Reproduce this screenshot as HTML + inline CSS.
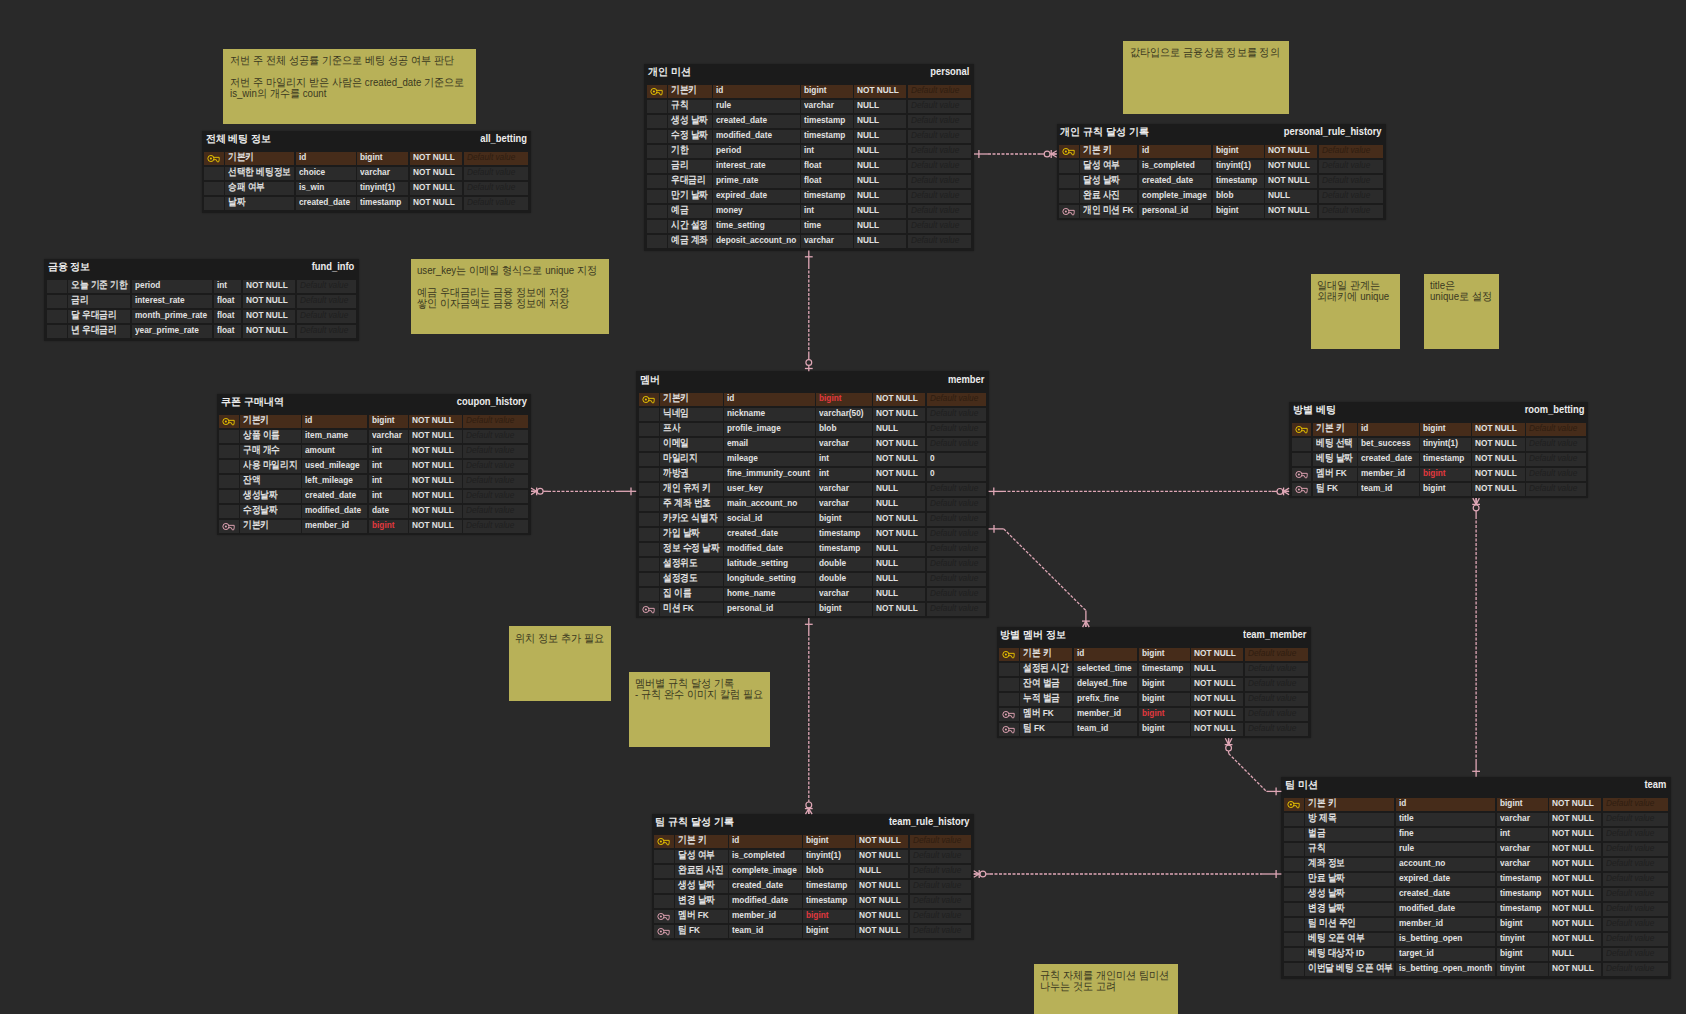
<!DOCTYPE html>
<html><head><meta charset="utf-8"><title>ERD</title><style>
*{margin:0;padding:0;box-sizing:border-box}
html,body{width:1686px;height:1014px;overflow:hidden;background:#292929}
body{position:relative;font-family:"Liberation Sans",sans-serif;}
.t{position:absolute;background:#1b1b1b;box-shadow:0 0 1.5px rgba(0,0,0,.3)}
.ht,.hn{position:absolute;font-size:10.4px;line-height:10.4px;font-weight:bold;color:#ececec;white-space:nowrap}
.ht{transform-origin:left center}
.hn{transform:scaleX(.9);transform-origin:right center}
.c{position:absolute;height:13.4px;background:#2b2b2b;overflow:hidden;white-space:nowrap}
.c.p{background:#462c1a}
.tx,.dv{position:absolute;left:3px;top:0.4px;font-size:9.5px;line-height:9.5px;color:#e2e2e2;font-weight:bold;transform:scaleX(.87);transform-origin:left center}
.tx.red{color:#e2393f}
.dv{font-style:italic;font-weight:normal;color:#1f1f1f;transform:scaleX(.87)}
.c.p .dv{color:#2f1d10}
.k{position:absolute;left:3.2px;top:2.3px}
.n{position:absolute;background:#b8b158;overflow:hidden}
.nt{position:absolute;left:6.3px;top:6.3px;font-size:10.5px;line-height:11.1px;color:#3a3820;white-space:nowrap;transform:scaleX(.92);transform-origin:left top}
svg.rel{position:absolute;left:0;top:0}
svg.rel line,svg.rel polyline{stroke:#dfa7b6;stroke-width:1.3}
svg.rel circle{stroke:#dfa7b6;stroke-width:1.2}
</style></head>
<body>
<div class="t" style="left:202.00px;top:131.10px;width:328.70px;height:82.30px">
<div class="ht" style="left:3.6px;top:3.3px">전체 베팅 정보</div>
<div class="hn" style="right:4.2px;top:3.3px">all_betting</div>
<div class="c p" style="left:2.00px;top:20.85px;width:19.80px"><svg class="k" width="13" height="10" viewBox="0 0 13 10"><circle cx="3.9" cy="4.5" r="3.05" fill="none" stroke="#e8c300" stroke-width="1.0"/><circle cx="3.9" cy="4.5" r="1.05" fill="#e8c300"/><path d="M6.9 3.35H12.2V5.8L11.7 7.8H10.2L9.3 5.7H6.9" fill="none" stroke="#e8c300" stroke-width="0.95" stroke-linejoin="round"/></svg></div>
<div class="c p" style="left:23.20px;top:20.85px;width:69.20px"><span class="tx">기본키</span></div>
<div class="c p" style="left:93.80px;top:20.85px;width:60.10px"><span class="tx">id</span></div>
<div class="c p" style="left:155.30px;top:20.85px;width:51.10px"><span class="tx">bigint</span></div>
<div class="c p" style="left:207.80px;top:20.85px;width:52.60px"><span class="tx">NOT NULL</span></div>
<div class="c p" style="left:261.80px;top:20.85px;width:64.30px"><span class="dv">Default value</span></div>
<div class="c" style="left:2.00px;top:35.85px;width:19.80px"></div>
<div class="c" style="left:23.20px;top:35.85px;width:69.20px"><span class="tx">선택한 베팅정보</span></div>
<div class="c" style="left:93.80px;top:35.85px;width:60.10px"><span class="tx">choice</span></div>
<div class="c" style="left:155.30px;top:35.85px;width:51.10px"><span class="tx">varchar</span></div>
<div class="c" style="left:207.80px;top:35.85px;width:52.60px"><span class="tx">NOT NULL</span></div>
<div class="c" style="left:261.80px;top:35.85px;width:64.30px"><span class="dv">Default value</span></div>
<div class="c" style="left:2.00px;top:50.85px;width:19.80px"></div>
<div class="c" style="left:23.20px;top:50.85px;width:69.20px"><span class="tx">승패 여부</span></div>
<div class="c" style="left:93.80px;top:50.85px;width:60.10px"><span class="tx">is_win</span></div>
<div class="c" style="left:155.30px;top:50.85px;width:51.10px"><span class="tx">tinyint(1)</span></div>
<div class="c" style="left:207.80px;top:50.85px;width:52.60px"><span class="tx">NOT NULL</span></div>
<div class="c" style="left:261.80px;top:50.85px;width:64.30px"><span class="dv">Default value</span></div>
<div class="c" style="left:2.00px;top:65.85px;width:19.80px"></div>
<div class="c" style="left:23.20px;top:65.85px;width:69.20px"><span class="tx">날짜</span></div>
<div class="c" style="left:93.80px;top:65.85px;width:60.10px"><span class="tx">created_date</span></div>
<div class="c" style="left:155.30px;top:65.85px;width:51.10px"><span class="tx">timestamp</span></div>
<div class="c" style="left:207.80px;top:65.85px;width:52.60px"><span class="tx">NOT NULL</span></div>
<div class="c" style="left:261.80px;top:65.85px;width:64.30px"><span class="dv">Default value</span></div>
</div>
<div class="t" style="left:44.00px;top:259.10px;width:314.60px;height:82.00px">
<div class="ht" style="left:3.6px;top:3.3px">금융 정보</div>
<div class="hn" style="right:4.2px;top:3.3px">fund_info</div>
<div class="c" style="left:3.10px;top:20.70px;width:19.70px"></div>
<div class="c" style="left:24.20px;top:20.70px;width:62.20px"><span class="tx">오늘 기준 기한</span></div>
<div class="c" style="left:87.80px;top:20.70px;width:80.60px"><span class="tx">period</span></div>
<div class="c" style="left:169.80px;top:20.70px;width:27.50px"><span class="tx">int</span></div>
<div class="c" style="left:198.70px;top:20.70px;width:52.40px"><span class="tx">NOT NULL</span></div>
<div class="c" style="left:252.50px;top:20.70px;width:59.50px"><span class="dv">Default value</span></div>
<div class="c" style="left:3.10px;top:35.70px;width:19.70px"></div>
<div class="c" style="left:24.20px;top:35.70px;width:62.20px"><span class="tx">금리</span></div>
<div class="c" style="left:87.80px;top:35.70px;width:80.60px"><span class="tx">interest_rate</span></div>
<div class="c" style="left:169.80px;top:35.70px;width:27.50px"><span class="tx">float</span></div>
<div class="c" style="left:198.70px;top:35.70px;width:52.40px"><span class="tx">NOT NULL</span></div>
<div class="c" style="left:252.50px;top:35.70px;width:59.50px"><span class="dv">Default value</span></div>
<div class="c" style="left:3.10px;top:50.70px;width:19.70px"></div>
<div class="c" style="left:24.20px;top:50.70px;width:62.20px"><span class="tx">달 우대금리</span></div>
<div class="c" style="left:87.80px;top:50.70px;width:80.60px"><span class="tx">month_prime_rate</span></div>
<div class="c" style="left:169.80px;top:50.70px;width:27.50px"><span class="tx">float</span></div>
<div class="c" style="left:198.70px;top:50.70px;width:52.40px"><span class="tx">NOT NULL</span></div>
<div class="c" style="left:252.50px;top:50.70px;width:59.50px"><span class="dv">Default value</span></div>
<div class="c" style="left:3.10px;top:65.70px;width:19.70px"></div>
<div class="c" style="left:24.20px;top:65.70px;width:62.20px"><span class="tx">년 우대금리</span></div>
<div class="c" style="left:87.80px;top:65.70px;width:80.60px"><span class="tx">year_prime_rate</span></div>
<div class="c" style="left:169.80px;top:65.70px;width:27.50px"><span class="tx">float</span></div>
<div class="c" style="left:198.70px;top:65.70px;width:52.40px"><span class="tx">NOT NULL</span></div>
<div class="c" style="left:252.50px;top:65.70px;width:59.50px"><span class="dv">Default value</span></div>
</div>
<div class="t" style="left:217.10px;top:394.10px;width:313.90px;height:141.10px">
<div class="ht" style="left:3.6px;top:3.3px">쿠폰 구매내역</div>
<div class="hn" style="right:4.2px;top:3.3px">coupon_history</div>
<div class="c p" style="left:2.00px;top:20.70px;width:19.70px"><svg class="k" width="13" height="10" viewBox="0 0 13 10"><circle cx="3.9" cy="4.5" r="3.05" fill="none" stroke="#e8c300" stroke-width="1.0"/><circle cx="3.9" cy="4.5" r="1.05" fill="#e8c300"/><path d="M6.9 3.35H12.2V5.8L11.7 7.8H10.2L9.3 5.7H6.9" fill="none" stroke="#e8c300" stroke-width="0.95" stroke-linejoin="round"/></svg></div>
<div class="c p" style="left:23.10px;top:20.70px;width:60.60px"><span class="tx">기본키</span></div>
<div class="c p" style="left:85.10px;top:20.70px;width:65.10px"><span class="tx">id</span></div>
<div class="c p" style="left:151.60px;top:20.70px;width:39.10px"><span class="tx">bigint</span></div>
<div class="c p" style="left:192.10px;top:20.70px;width:52.50px"><span class="tx">NOT NULL</span></div>
<div class="c p" style="left:246.00px;top:20.70px;width:65.10px"><span class="dv">Default value</span></div>
<div class="c" style="left:2.00px;top:35.70px;width:19.70px"></div>
<div class="c" style="left:23.10px;top:35.70px;width:60.60px"><span class="tx">상품 이름</span></div>
<div class="c" style="left:85.10px;top:35.70px;width:65.10px"><span class="tx">item_name</span></div>
<div class="c" style="left:151.60px;top:35.70px;width:39.10px"><span class="tx">varchar</span></div>
<div class="c" style="left:192.10px;top:35.70px;width:52.50px"><span class="tx">NOT NULL</span></div>
<div class="c" style="left:246.00px;top:35.70px;width:65.10px"><span class="dv">Default value</span></div>
<div class="c" style="left:2.00px;top:50.70px;width:19.70px"></div>
<div class="c" style="left:23.10px;top:50.70px;width:60.60px"><span class="tx">구매 개수</span></div>
<div class="c" style="left:85.10px;top:50.70px;width:65.10px"><span class="tx">amount</span></div>
<div class="c" style="left:151.60px;top:50.70px;width:39.10px"><span class="tx">int</span></div>
<div class="c" style="left:192.10px;top:50.70px;width:52.50px"><span class="tx">NOT NULL</span></div>
<div class="c" style="left:246.00px;top:50.70px;width:65.10px"><span class="dv">Default value</span></div>
<div class="c" style="left:2.00px;top:65.70px;width:19.70px"></div>
<div class="c" style="left:23.10px;top:65.70px;width:60.60px"><span class="tx">사용 마일리지</span></div>
<div class="c" style="left:85.10px;top:65.70px;width:65.10px"><span class="tx">used_mileage</span></div>
<div class="c" style="left:151.60px;top:65.70px;width:39.10px"><span class="tx">int</span></div>
<div class="c" style="left:192.10px;top:65.70px;width:52.50px"><span class="tx">NOT NULL</span></div>
<div class="c" style="left:246.00px;top:65.70px;width:65.10px"><span class="dv">Default value</span></div>
<div class="c" style="left:2.00px;top:80.70px;width:19.70px"></div>
<div class="c" style="left:23.10px;top:80.70px;width:60.60px"><span class="tx">잔액</span></div>
<div class="c" style="left:85.10px;top:80.70px;width:65.10px"><span class="tx">left_mileage</span></div>
<div class="c" style="left:151.60px;top:80.70px;width:39.10px"><span class="tx">int</span></div>
<div class="c" style="left:192.10px;top:80.70px;width:52.50px"><span class="tx">NOT NULL</span></div>
<div class="c" style="left:246.00px;top:80.70px;width:65.10px"><span class="dv">Default value</span></div>
<div class="c" style="left:2.00px;top:95.70px;width:19.70px"></div>
<div class="c" style="left:23.10px;top:95.70px;width:60.60px"><span class="tx">생성날짜</span></div>
<div class="c" style="left:85.10px;top:95.70px;width:65.10px"><span class="tx">created_date</span></div>
<div class="c" style="left:151.60px;top:95.70px;width:39.10px"><span class="tx">int</span></div>
<div class="c" style="left:192.10px;top:95.70px;width:52.50px"><span class="tx">NOT NULL</span></div>
<div class="c" style="left:246.00px;top:95.70px;width:65.10px"><span class="dv">Default value</span></div>
<div class="c" style="left:2.00px;top:110.70px;width:19.70px"></div>
<div class="c" style="left:23.10px;top:110.70px;width:60.60px"><span class="tx">수정날짜</span></div>
<div class="c" style="left:85.10px;top:110.70px;width:65.10px"><span class="tx">modified_date</span></div>
<div class="c" style="left:151.60px;top:110.70px;width:39.10px"><span class="tx">date</span></div>
<div class="c" style="left:192.10px;top:110.70px;width:52.50px"><span class="tx">NOT NULL</span></div>
<div class="c" style="left:246.00px;top:110.70px;width:65.10px"><span class="dv">Default value</span></div>
<div class="c" style="left:2.00px;top:125.70px;width:19.70px"><svg class="k" width="13" height="10" viewBox="0 0 13 10"><circle cx="3.9" cy="4.5" r="3.05" fill="none" stroke="#e0a3b3" stroke-width="1.0"/><circle cx="3.9" cy="4.5" r="1.05" fill="#e0a3b3"/><path d="M6.9 3.35H12.2V5.8L11.7 7.8H10.2L9.3 5.7H6.9" fill="none" stroke="#e0a3b3" stroke-width="0.95" stroke-linejoin="round"/></svg></div>
<div class="c" style="left:23.10px;top:125.70px;width:60.60px"><span class="tx">기본키</span></div>
<div class="c" style="left:85.10px;top:125.70px;width:65.10px"><span class="tx">member_id</span></div>
<div class="c" style="left:151.60px;top:125.70px;width:39.10px"><span class="tx red">bigint</span></div>
<div class="c" style="left:192.10px;top:125.70px;width:52.50px"><span class="tx">NOT NULL</span></div>
<div class="c" style="left:246.00px;top:125.70px;width:65.10px"><span class="dv">Default value</span></div>
</div>
<div class="t" style="left:644.10px;top:64.20px;width:329.90px;height:186.40px">
<div class="ht" style="left:3.6px;top:3.3px">개인 미션</div>
<div class="hn" style="right:4.2px;top:3.3px">personal</div>
<div class="c p" style="left:2.90px;top:20.65px;width:19.80px"><svg class="k" width="13" height="10" viewBox="0 0 13 10"><circle cx="3.9" cy="4.5" r="3.05" fill="none" stroke="#e8c300" stroke-width="1.0"/><circle cx="3.9" cy="4.5" r="1.05" fill="#e8c300"/><path d="M6.9 3.35H12.2V5.8L11.7 7.8H10.2L9.3 5.7H6.9" fill="none" stroke="#e8c300" stroke-width="0.95" stroke-linejoin="round"/></svg></div>
<div class="c p" style="left:24.10px;top:20.65px;width:43.60px"><span class="tx">기본키</span></div>
<div class="c p" style="left:69.10px;top:20.65px;width:86.90px"><span class="tx">id</span></div>
<div class="c p" style="left:157.40px;top:20.65px;width:51.30px"><span class="tx">bigint</span></div>
<div class="c p" style="left:210.10px;top:20.65px;width:52.20px"><span class="tx">NOT NULL</span></div>
<div class="c p" style="left:263.70px;top:20.65px;width:63.30px"><span class="dv">Default value</span></div>
<div class="c" style="left:2.90px;top:35.65px;width:19.80px"></div>
<div class="c" style="left:24.10px;top:35.65px;width:43.60px"><span class="tx">규칙</span></div>
<div class="c" style="left:69.10px;top:35.65px;width:86.90px"><span class="tx">rule</span></div>
<div class="c" style="left:157.40px;top:35.65px;width:51.30px"><span class="tx">varchar</span></div>
<div class="c" style="left:210.10px;top:35.65px;width:52.20px"><span class="tx">NULL</span></div>
<div class="c" style="left:263.70px;top:35.65px;width:63.30px"><span class="dv">Default value</span></div>
<div class="c" style="left:2.90px;top:50.65px;width:19.80px"></div>
<div class="c" style="left:24.10px;top:50.65px;width:43.60px"><span class="tx">생성 날짜</span></div>
<div class="c" style="left:69.10px;top:50.65px;width:86.90px"><span class="tx">created_date</span></div>
<div class="c" style="left:157.40px;top:50.65px;width:51.30px"><span class="tx">timestamp</span></div>
<div class="c" style="left:210.10px;top:50.65px;width:52.20px"><span class="tx">NULL</span></div>
<div class="c" style="left:263.70px;top:50.65px;width:63.30px"><span class="dv">Default value</span></div>
<div class="c" style="left:2.90px;top:65.65px;width:19.80px"></div>
<div class="c" style="left:24.10px;top:65.65px;width:43.60px"><span class="tx">수정 날짜</span></div>
<div class="c" style="left:69.10px;top:65.65px;width:86.90px"><span class="tx">modified_date</span></div>
<div class="c" style="left:157.40px;top:65.65px;width:51.30px"><span class="tx">timestamp</span></div>
<div class="c" style="left:210.10px;top:65.65px;width:52.20px"><span class="tx">NULL</span></div>
<div class="c" style="left:263.70px;top:65.65px;width:63.30px"><span class="dv">Default value</span></div>
<div class="c" style="left:2.90px;top:80.65px;width:19.80px"></div>
<div class="c" style="left:24.10px;top:80.65px;width:43.60px"><span class="tx">기한</span></div>
<div class="c" style="left:69.10px;top:80.65px;width:86.90px"><span class="tx">period</span></div>
<div class="c" style="left:157.40px;top:80.65px;width:51.30px"><span class="tx">int</span></div>
<div class="c" style="left:210.10px;top:80.65px;width:52.20px"><span class="tx">NULL</span></div>
<div class="c" style="left:263.70px;top:80.65px;width:63.30px"><span class="dv">Default value</span></div>
<div class="c" style="left:2.90px;top:95.65px;width:19.80px"></div>
<div class="c" style="left:24.10px;top:95.65px;width:43.60px"><span class="tx">금리</span></div>
<div class="c" style="left:69.10px;top:95.65px;width:86.90px"><span class="tx">interest_rate</span></div>
<div class="c" style="left:157.40px;top:95.65px;width:51.30px"><span class="tx">float</span></div>
<div class="c" style="left:210.10px;top:95.65px;width:52.20px"><span class="tx">NULL</span></div>
<div class="c" style="left:263.70px;top:95.65px;width:63.30px"><span class="dv">Default value</span></div>
<div class="c" style="left:2.90px;top:110.65px;width:19.80px"></div>
<div class="c" style="left:24.10px;top:110.65px;width:43.60px"><span class="tx">우대금리</span></div>
<div class="c" style="left:69.10px;top:110.65px;width:86.90px"><span class="tx">prime_rate</span></div>
<div class="c" style="left:157.40px;top:110.65px;width:51.30px"><span class="tx">float</span></div>
<div class="c" style="left:210.10px;top:110.65px;width:52.20px"><span class="tx">NULL</span></div>
<div class="c" style="left:263.70px;top:110.65px;width:63.30px"><span class="dv">Default value</span></div>
<div class="c" style="left:2.90px;top:125.65px;width:19.80px"></div>
<div class="c" style="left:24.10px;top:125.65px;width:43.60px"><span class="tx">만기 날짜</span></div>
<div class="c" style="left:69.10px;top:125.65px;width:86.90px"><span class="tx">expired_date</span></div>
<div class="c" style="left:157.40px;top:125.65px;width:51.30px"><span class="tx">timestamp</span></div>
<div class="c" style="left:210.10px;top:125.65px;width:52.20px"><span class="tx">NULL</span></div>
<div class="c" style="left:263.70px;top:125.65px;width:63.30px"><span class="dv">Default value</span></div>
<div class="c" style="left:2.90px;top:140.65px;width:19.80px"></div>
<div class="c" style="left:24.10px;top:140.65px;width:43.60px"><span class="tx">예금</span></div>
<div class="c" style="left:69.10px;top:140.65px;width:86.90px"><span class="tx">money</span></div>
<div class="c" style="left:157.40px;top:140.65px;width:51.30px"><span class="tx">int</span></div>
<div class="c" style="left:210.10px;top:140.65px;width:52.20px"><span class="tx">NULL</span></div>
<div class="c" style="left:263.70px;top:140.65px;width:63.30px"><span class="dv">Default value</span></div>
<div class="c" style="left:2.90px;top:155.65px;width:19.80px"></div>
<div class="c" style="left:24.10px;top:155.65px;width:43.60px"><span class="tx">시간 설정</span></div>
<div class="c" style="left:69.10px;top:155.65px;width:86.90px"><span class="tx">time_setting</span></div>
<div class="c" style="left:157.40px;top:155.65px;width:51.30px"><span class="tx">time</span></div>
<div class="c" style="left:210.10px;top:155.65px;width:52.20px"><span class="tx">NULL</span></div>
<div class="c" style="left:263.70px;top:155.65px;width:63.30px"><span class="dv">Default value</span></div>
<div class="c" style="left:2.90px;top:170.65px;width:19.80px"></div>
<div class="c" style="left:24.10px;top:170.65px;width:43.60px"><span class="tx">예금 계좌</span></div>
<div class="c" style="left:69.10px;top:170.65px;width:86.90px"><span class="tx">deposit_account_no</span></div>
<div class="c" style="left:157.40px;top:170.65px;width:51.30px"><span class="tx">varchar</span></div>
<div class="c" style="left:210.10px;top:170.65px;width:52.20px"><span class="tx">NULL</span></div>
<div class="c" style="left:263.70px;top:170.65px;width:63.30px"><span class="dv">Default value</span></div>
</div>
<div class="t" style="left:1056.70px;top:124.10px;width:329.00px;height:96.20px">
<div class="ht" style="left:3.6px;top:3.3px">개인 규칙 달성 기록</div>
<div class="hn" style="right:4.2px;top:3.3px">personal_rule_history</div>
<div class="c p" style="left:2.40px;top:20.70px;width:19.70px"><svg class="k" width="13" height="10" viewBox="0 0 13 10"><circle cx="3.9" cy="4.5" r="3.05" fill="none" stroke="#e8c300" stroke-width="1.0"/><circle cx="3.9" cy="4.5" r="1.05" fill="#e8c300"/><path d="M6.9 3.35H12.2V5.8L11.7 7.8H10.2L9.3 5.7H6.9" fill="none" stroke="#e8c300" stroke-width="0.95" stroke-linejoin="round"/></svg></div>
<div class="c p" style="left:23.50px;top:20.70px;width:57.10px"><span class="tx">기본 키</span></div>
<div class="c p" style="left:82.00px;top:20.70px;width:72.80px"><span class="tx">id</span></div>
<div class="c p" style="left:156.20px;top:20.70px;width:51.10px"><span class="tx">bigint</span></div>
<div class="c p" style="left:208.70px;top:20.70px;width:52.00px"><span class="tx">NOT NULL</span></div>
<div class="c p" style="left:262.10px;top:20.70px;width:64.30px"><span class="dv">Default value</span></div>
<div class="c" style="left:2.40px;top:35.70px;width:19.70px"></div>
<div class="c" style="left:23.50px;top:35.70px;width:57.10px"><span class="tx">달성 여부</span></div>
<div class="c" style="left:82.00px;top:35.70px;width:72.80px"><span class="tx">is_completed</span></div>
<div class="c" style="left:156.20px;top:35.70px;width:51.10px"><span class="tx">tinyint(1)</span></div>
<div class="c" style="left:208.70px;top:35.70px;width:52.00px"><span class="tx">NOT NULL</span></div>
<div class="c" style="left:262.10px;top:35.70px;width:64.30px"><span class="dv">Default value</span></div>
<div class="c" style="left:2.40px;top:50.70px;width:19.70px"></div>
<div class="c" style="left:23.50px;top:50.70px;width:57.10px"><span class="tx">달성 날짜</span></div>
<div class="c" style="left:82.00px;top:50.70px;width:72.80px"><span class="tx">created_date</span></div>
<div class="c" style="left:156.20px;top:50.70px;width:51.10px"><span class="tx">timestamp</span></div>
<div class="c" style="left:208.70px;top:50.70px;width:52.00px"><span class="tx">NOT NULL</span></div>
<div class="c" style="left:262.10px;top:50.70px;width:64.30px"><span class="dv">Default value</span></div>
<div class="c" style="left:2.40px;top:65.70px;width:19.70px"></div>
<div class="c" style="left:23.50px;top:65.70px;width:57.10px"><span class="tx">완료 사진</span></div>
<div class="c" style="left:82.00px;top:65.70px;width:72.80px"><span class="tx">complete_image</span></div>
<div class="c" style="left:156.20px;top:65.70px;width:51.10px"><span class="tx">blob</span></div>
<div class="c" style="left:208.70px;top:65.70px;width:52.00px"><span class="tx">NULL</span></div>
<div class="c" style="left:262.10px;top:65.70px;width:64.30px"><span class="dv">Default value</span></div>
<div class="c" style="left:2.40px;top:80.70px;width:19.70px"><svg class="k" width="13" height="10" viewBox="0 0 13 10"><circle cx="3.9" cy="4.5" r="3.05" fill="none" stroke="#e0a3b3" stroke-width="1.0"/><circle cx="3.9" cy="4.5" r="1.05" fill="#e0a3b3"/><path d="M6.9 3.35H12.2V5.8L11.7 7.8H10.2L9.3 5.7H6.9" fill="none" stroke="#e0a3b3" stroke-width="0.95" stroke-linejoin="round"/></svg></div>
<div class="c" style="left:23.50px;top:80.70px;width:57.10px"><span class="tx">개인 미션 FK</span></div>
<div class="c" style="left:82.00px;top:80.70px;width:72.80px"><span class="tx">personal_id</span></div>
<div class="c" style="left:156.20px;top:80.70px;width:51.10px"><span class="tx">bigint</span></div>
<div class="c" style="left:208.70px;top:80.70px;width:52.00px"><span class="tx">NOT NULL</span></div>
<div class="c" style="left:262.10px;top:80.70px;width:64.30px"><span class="dv">Default value</span></div>
</div>
<div class="t" style="left:636.20px;top:371.30px;width:352.40px;height:246.70px">
<div class="ht" style="left:3.6px;top:3.3px">멤버</div>
<div class="hn" style="right:4.2px;top:3.3px">member</div>
<div class="c p" style="left:3.10px;top:21.40px;width:19.50px"><svg class="k" width="13" height="10" viewBox="0 0 13 10"><circle cx="3.9" cy="4.5" r="3.05" fill="none" stroke="#e8c300" stroke-width="1.0"/><circle cx="3.9" cy="4.5" r="1.05" fill="#e8c300"/><path d="M6.9 3.35H12.2V5.8L11.7 7.8H10.2L9.3 5.7H6.9" fill="none" stroke="#e8c300" stroke-width="0.95" stroke-linejoin="round"/></svg></div>
<div class="c p" style="left:24.00px;top:21.40px;width:62.50px"><span class="tx">기본키</span></div>
<div class="c p" style="left:87.90px;top:21.40px;width:90.80px"><span class="tx">id</span></div>
<div class="c p" style="left:180.10px;top:21.40px;width:55.30px"><span class="tx red">bigint</span></div>
<div class="c p" style="left:236.80px;top:21.40px;width:52.20px"><span class="tx">NOT NULL</span></div>
<div class="c p" style="left:290.40px;top:21.40px;width:59.30px"><span class="dv">Default value</span></div>
<div class="c" style="left:3.10px;top:36.40px;width:19.50px"></div>
<div class="c" style="left:24.00px;top:36.40px;width:62.50px"><span class="tx">닉네임</span></div>
<div class="c" style="left:87.90px;top:36.40px;width:90.80px"><span class="tx">nickname</span></div>
<div class="c" style="left:180.10px;top:36.40px;width:55.30px"><span class="tx">varchar(50)</span></div>
<div class="c" style="left:236.80px;top:36.40px;width:52.20px"><span class="tx">NOT NULL</span></div>
<div class="c" style="left:290.40px;top:36.40px;width:59.30px"><span class="dv">Default value</span></div>
<div class="c" style="left:3.10px;top:51.40px;width:19.50px"></div>
<div class="c" style="left:24.00px;top:51.40px;width:62.50px"><span class="tx">프사</span></div>
<div class="c" style="left:87.90px;top:51.40px;width:90.80px"><span class="tx">profile_image</span></div>
<div class="c" style="left:180.10px;top:51.40px;width:55.30px"><span class="tx">blob</span></div>
<div class="c" style="left:236.80px;top:51.40px;width:52.20px"><span class="tx">NULL</span></div>
<div class="c" style="left:290.40px;top:51.40px;width:59.30px"><span class="dv">Default value</span></div>
<div class="c" style="left:3.10px;top:66.40px;width:19.50px"></div>
<div class="c" style="left:24.00px;top:66.40px;width:62.50px"><span class="tx">이메일</span></div>
<div class="c" style="left:87.90px;top:66.40px;width:90.80px"><span class="tx">email</span></div>
<div class="c" style="left:180.10px;top:66.40px;width:55.30px"><span class="tx">varchar</span></div>
<div class="c" style="left:236.80px;top:66.40px;width:52.20px"><span class="tx">NOT NULL</span></div>
<div class="c" style="left:290.40px;top:66.40px;width:59.30px"><span class="dv">Default value</span></div>
<div class="c" style="left:3.10px;top:81.40px;width:19.50px"></div>
<div class="c" style="left:24.00px;top:81.40px;width:62.50px"><span class="tx">마일리지</span></div>
<div class="c" style="left:87.90px;top:81.40px;width:90.80px"><span class="tx">mileage</span></div>
<div class="c" style="left:180.10px;top:81.40px;width:55.30px"><span class="tx">int</span></div>
<div class="c" style="left:236.80px;top:81.40px;width:52.20px"><span class="tx">NOT NULL</span></div>
<div class="c" style="left:290.40px;top:81.40px;width:59.30px"><span class="tx">0</span></div>
<div class="c" style="left:3.10px;top:96.40px;width:19.50px"></div>
<div class="c" style="left:24.00px;top:96.40px;width:62.50px"><span class="tx">까방권</span></div>
<div class="c" style="left:87.90px;top:96.40px;width:90.80px"><span class="tx">fine_immunity_count</span></div>
<div class="c" style="left:180.10px;top:96.40px;width:55.30px"><span class="tx">int</span></div>
<div class="c" style="left:236.80px;top:96.40px;width:52.20px"><span class="tx">NOT NULL</span></div>
<div class="c" style="left:290.40px;top:96.40px;width:59.30px"><span class="tx">0</span></div>
<div class="c" style="left:3.10px;top:111.40px;width:19.50px"></div>
<div class="c" style="left:24.00px;top:111.40px;width:62.50px"><span class="tx">개인 유저 키</span></div>
<div class="c" style="left:87.90px;top:111.40px;width:90.80px"><span class="tx">user_key</span></div>
<div class="c" style="left:180.10px;top:111.40px;width:55.30px"><span class="tx">varchar</span></div>
<div class="c" style="left:236.80px;top:111.40px;width:52.20px"><span class="tx">NULL</span></div>
<div class="c" style="left:290.40px;top:111.40px;width:59.30px"><span class="dv">Default value</span></div>
<div class="c" style="left:3.10px;top:126.40px;width:19.50px"></div>
<div class="c" style="left:24.00px;top:126.40px;width:62.50px"><span class="tx">주 계좌 번호</span></div>
<div class="c" style="left:87.90px;top:126.40px;width:90.80px"><span class="tx">main_account_no</span></div>
<div class="c" style="left:180.10px;top:126.40px;width:55.30px"><span class="tx">varchar</span></div>
<div class="c" style="left:236.80px;top:126.40px;width:52.20px"><span class="tx">NULL</span></div>
<div class="c" style="left:290.40px;top:126.40px;width:59.30px"><span class="dv">Default value</span></div>
<div class="c" style="left:3.10px;top:141.40px;width:19.50px"></div>
<div class="c" style="left:24.00px;top:141.40px;width:62.50px"><span class="tx">카카오 식별자</span></div>
<div class="c" style="left:87.90px;top:141.40px;width:90.80px"><span class="tx">social_id</span></div>
<div class="c" style="left:180.10px;top:141.40px;width:55.30px"><span class="tx">bigint</span></div>
<div class="c" style="left:236.80px;top:141.40px;width:52.20px"><span class="tx">NOT NULL</span></div>
<div class="c" style="left:290.40px;top:141.40px;width:59.30px"><span class="dv">Default value</span></div>
<div class="c" style="left:3.10px;top:156.40px;width:19.50px"></div>
<div class="c" style="left:24.00px;top:156.40px;width:62.50px"><span class="tx">가입 날짜</span></div>
<div class="c" style="left:87.90px;top:156.40px;width:90.80px"><span class="tx">created_date</span></div>
<div class="c" style="left:180.10px;top:156.40px;width:55.30px"><span class="tx">timestamp</span></div>
<div class="c" style="left:236.80px;top:156.40px;width:52.20px"><span class="tx">NOT NULL</span></div>
<div class="c" style="left:290.40px;top:156.40px;width:59.30px"><span class="dv">Default value</span></div>
<div class="c" style="left:3.10px;top:171.40px;width:19.50px"></div>
<div class="c" style="left:24.00px;top:171.40px;width:62.50px"><span class="tx">정보 수정 날짜</span></div>
<div class="c" style="left:87.90px;top:171.40px;width:90.80px"><span class="tx">modified_date</span></div>
<div class="c" style="left:180.10px;top:171.40px;width:55.30px"><span class="tx">timestamp</span></div>
<div class="c" style="left:236.80px;top:171.40px;width:52.20px"><span class="tx">NULL</span></div>
<div class="c" style="left:290.40px;top:171.40px;width:59.30px"><span class="dv">Default value</span></div>
<div class="c" style="left:3.10px;top:186.40px;width:19.50px"></div>
<div class="c" style="left:24.00px;top:186.40px;width:62.50px"><span class="tx">설정위도</span></div>
<div class="c" style="left:87.90px;top:186.40px;width:90.80px"><span class="tx">latitude_setting</span></div>
<div class="c" style="left:180.10px;top:186.40px;width:55.30px"><span class="tx">double</span></div>
<div class="c" style="left:236.80px;top:186.40px;width:52.20px"><span class="tx">NULL</span></div>
<div class="c" style="left:290.40px;top:186.40px;width:59.30px"><span class="dv">Default value</span></div>
<div class="c" style="left:3.10px;top:201.40px;width:19.50px"></div>
<div class="c" style="left:24.00px;top:201.40px;width:62.50px"><span class="tx">설정경도</span></div>
<div class="c" style="left:87.90px;top:201.40px;width:90.80px"><span class="tx">longitude_setting</span></div>
<div class="c" style="left:180.10px;top:201.40px;width:55.30px"><span class="tx">double</span></div>
<div class="c" style="left:236.80px;top:201.40px;width:52.20px"><span class="tx">NULL</span></div>
<div class="c" style="left:290.40px;top:201.40px;width:59.30px"><span class="dv">Default value</span></div>
<div class="c" style="left:3.10px;top:216.40px;width:19.50px"></div>
<div class="c" style="left:24.00px;top:216.40px;width:62.50px"><span class="tx">집 이름</span></div>
<div class="c" style="left:87.90px;top:216.40px;width:90.80px"><span class="tx">home_name</span></div>
<div class="c" style="left:180.10px;top:216.40px;width:55.30px"><span class="tx">varchar</span></div>
<div class="c" style="left:236.80px;top:216.40px;width:52.20px"><span class="tx">NULL</span></div>
<div class="c" style="left:290.40px;top:216.40px;width:59.30px"><span class="dv">Default value</span></div>
<div class="c" style="left:3.10px;top:231.40px;width:19.50px"><svg class="k" width="13" height="10" viewBox="0 0 13 10"><circle cx="3.9" cy="4.5" r="3.05" fill="none" stroke="#e0a3b3" stroke-width="1.0"/><circle cx="3.9" cy="4.5" r="1.05" fill="#e0a3b3"/><path d="M6.9 3.35H12.2V5.8L11.7 7.8H10.2L9.3 5.7H6.9" fill="none" stroke="#e0a3b3" stroke-width="0.95" stroke-linejoin="round"/></svg></div>
<div class="c" style="left:24.00px;top:231.40px;width:62.50px"><span class="tx">미션 FK</span></div>
<div class="c" style="left:87.90px;top:231.40px;width:90.80px"><span class="tx">personal_id</span></div>
<div class="c" style="left:180.10px;top:231.40px;width:55.30px"><span class="tx">bigint</span></div>
<div class="c" style="left:236.80px;top:231.40px;width:52.20px"><span class="tx">NOT NULL</span></div>
<div class="c" style="left:290.40px;top:231.40px;width:59.30px"><span class="dv">Default value</span></div>
</div>
<div class="t" style="left:1289.10px;top:402.00px;width:299.30px;height:96.10px">
<div class="ht" style="left:3.6px;top:3.3px">방별 베팅</div>
<div class="hn" style="right:4.2px;top:3.3px">room_betting</div>
<div class="c p" style="left:2.70px;top:20.50px;width:19.60px"><svg class="k" width="13" height="10" viewBox="0 0 13 10"><circle cx="3.9" cy="4.5" r="3.05" fill="none" stroke="#e8c300" stroke-width="1.0"/><circle cx="3.9" cy="4.5" r="1.05" fill="#e8c300"/><path d="M6.9 3.35H12.2V5.8L11.7 7.8H10.2L9.3 5.7H6.9" fill="none" stroke="#e8c300" stroke-width="0.95" stroke-linejoin="round"/></svg></div>
<div class="c p" style="left:23.70px;top:20.50px;width:44.00px"><span class="tx">기본 키</span></div>
<div class="c p" style="left:69.10px;top:20.50px;width:60.50px"><span class="tx">id</span></div>
<div class="c p" style="left:131.00px;top:20.50px;width:50.80px"><span class="tx">bigint</span></div>
<div class="c p" style="left:183.20px;top:20.50px;width:52.50px"><span class="tx">NOT NULL</span></div>
<div class="c p" style="left:237.10px;top:20.50px;width:59.70px"><span class="dv">Default value</span></div>
<div class="c" style="left:2.70px;top:35.50px;width:19.60px"></div>
<div class="c" style="left:23.70px;top:35.50px;width:44.00px"><span class="tx">베팅 선택</span></div>
<div class="c" style="left:69.10px;top:35.50px;width:60.50px"><span class="tx">bet_success</span></div>
<div class="c" style="left:131.00px;top:35.50px;width:50.80px"><span class="tx">tinyint(1)</span></div>
<div class="c" style="left:183.20px;top:35.50px;width:52.50px"><span class="tx">NOT NULL</span></div>
<div class="c" style="left:237.10px;top:35.50px;width:59.70px"><span class="dv">Default value</span></div>
<div class="c" style="left:2.70px;top:50.50px;width:19.60px"></div>
<div class="c" style="left:23.70px;top:50.50px;width:44.00px"><span class="tx">베팅 날짜</span></div>
<div class="c" style="left:69.10px;top:50.50px;width:60.50px"><span class="tx">created_date</span></div>
<div class="c" style="left:131.00px;top:50.50px;width:50.80px"><span class="tx">timestamp</span></div>
<div class="c" style="left:183.20px;top:50.50px;width:52.50px"><span class="tx">NOT NULL</span></div>
<div class="c" style="left:237.10px;top:50.50px;width:59.70px"><span class="dv">Default value</span></div>
<div class="c" style="left:2.70px;top:65.50px;width:19.60px"><svg class="k" width="13" height="10" viewBox="0 0 13 10"><circle cx="3.9" cy="4.5" r="3.05" fill="none" stroke="#e0a3b3" stroke-width="1.0"/><circle cx="3.9" cy="4.5" r="1.05" fill="#e0a3b3"/><path d="M6.9 3.35H12.2V5.8L11.7 7.8H10.2L9.3 5.7H6.9" fill="none" stroke="#e0a3b3" stroke-width="0.95" stroke-linejoin="round"/></svg></div>
<div class="c" style="left:23.70px;top:65.50px;width:44.00px"><span class="tx">멤버 FK</span></div>
<div class="c" style="left:69.10px;top:65.50px;width:60.50px"><span class="tx">member_id</span></div>
<div class="c" style="left:131.00px;top:65.50px;width:50.80px"><span class="tx red">bigint</span></div>
<div class="c" style="left:183.20px;top:65.50px;width:52.50px"><span class="tx">NOT NULL</span></div>
<div class="c" style="left:237.10px;top:65.50px;width:59.70px"><span class="dv">Default value</span></div>
<div class="c" style="left:2.70px;top:80.50px;width:19.60px"><svg class="k" width="13" height="10" viewBox="0 0 13 10"><circle cx="3.9" cy="4.5" r="3.05" fill="none" stroke="#e0a3b3" stroke-width="1.0"/><circle cx="3.9" cy="4.5" r="1.05" fill="#e0a3b3"/><path d="M6.9 3.35H12.2V5.8L11.7 7.8H10.2L9.3 5.7H6.9" fill="none" stroke="#e0a3b3" stroke-width="0.95" stroke-linejoin="round"/></svg></div>
<div class="c" style="left:23.70px;top:80.50px;width:44.00px"><span class="tx">팀 FK</span></div>
<div class="c" style="left:69.10px;top:80.50px;width:60.50px"><span class="tx">team_id</span></div>
<div class="c" style="left:131.00px;top:80.50px;width:50.80px"><span class="tx">bigint</span></div>
<div class="c" style="left:183.20px;top:80.50px;width:52.50px"><span class="tx">NOT NULL</span></div>
<div class="c" style="left:237.10px;top:80.50px;width:59.70px"><span class="dv">Default value</span></div>
</div>
<div class="t" style="left:996.50px;top:627.10px;width:314.10px;height:111.20px">
<div class="ht" style="left:3.6px;top:3.3px">방별 멤버 정보</div>
<div class="hn" style="right:4.2px;top:3.3px">team_member</div>
<div class="c p" style="left:2.30px;top:20.60px;width:20.10px"><svg class="k" width="13" height="10" viewBox="0 0 13 10"><circle cx="3.9" cy="4.5" r="3.05" fill="none" stroke="#e8c300" stroke-width="1.0"/><circle cx="3.9" cy="4.5" r="1.05" fill="#e8c300"/><path d="M6.9 3.35H12.2V5.8L11.7 7.8H10.2L9.3 5.7H6.9" fill="none" stroke="#e8c300" stroke-width="0.95" stroke-linejoin="round"/></svg></div>
<div class="c p" style="left:23.80px;top:20.60px;width:52.10px"><span class="tx">기본 키</span></div>
<div class="c p" style="left:77.30px;top:20.60px;width:63.60px"><span class="tx">id</span></div>
<div class="c p" style="left:142.30px;top:20.60px;width:50.80px"><span class="tx">bigint</span></div>
<div class="c p" style="left:194.50px;top:20.60px;width:52.40px"><span class="tx">NOT NULL</span></div>
<div class="c p" style="left:248.30px;top:20.60px;width:63.30px"><span class="dv">Default value</span></div>
<div class="c" style="left:2.30px;top:35.60px;width:20.10px"></div>
<div class="c" style="left:23.80px;top:35.60px;width:52.10px"><span class="tx">설정된 시간</span></div>
<div class="c" style="left:77.30px;top:35.60px;width:63.60px"><span class="tx">selected_time</span></div>
<div class="c" style="left:142.30px;top:35.60px;width:50.80px"><span class="tx">timestamp</span></div>
<div class="c" style="left:194.50px;top:35.60px;width:52.40px"><span class="tx">NULL</span></div>
<div class="c" style="left:248.30px;top:35.60px;width:63.30px"><span class="dv">Default value</span></div>
<div class="c" style="left:2.30px;top:50.60px;width:20.10px"></div>
<div class="c" style="left:23.80px;top:50.60px;width:52.10px"><span class="tx">잔여 벌금</span></div>
<div class="c" style="left:77.30px;top:50.60px;width:63.60px"><span class="tx">delayed_fine</span></div>
<div class="c" style="left:142.30px;top:50.60px;width:50.80px"><span class="tx">bigint</span></div>
<div class="c" style="left:194.50px;top:50.60px;width:52.40px"><span class="tx">NOT NULL</span></div>
<div class="c" style="left:248.30px;top:50.60px;width:63.30px"><span class="dv">Default value</span></div>
<div class="c" style="left:2.30px;top:65.60px;width:20.10px"></div>
<div class="c" style="left:23.80px;top:65.60px;width:52.10px"><span class="tx">누적 벌금</span></div>
<div class="c" style="left:77.30px;top:65.60px;width:63.60px"><span class="tx">prefix_fine</span></div>
<div class="c" style="left:142.30px;top:65.60px;width:50.80px"><span class="tx">bigint</span></div>
<div class="c" style="left:194.50px;top:65.60px;width:52.40px"><span class="tx">NOT NULL</span></div>
<div class="c" style="left:248.30px;top:65.60px;width:63.30px"><span class="dv">Default value</span></div>
<div class="c" style="left:2.30px;top:80.60px;width:20.10px"><svg class="k" width="13" height="10" viewBox="0 0 13 10"><circle cx="3.9" cy="4.5" r="3.05" fill="none" stroke="#e0a3b3" stroke-width="1.0"/><circle cx="3.9" cy="4.5" r="1.05" fill="#e0a3b3"/><path d="M6.9 3.35H12.2V5.8L11.7 7.8H10.2L9.3 5.7H6.9" fill="none" stroke="#e0a3b3" stroke-width="0.95" stroke-linejoin="round"/></svg></div>
<div class="c" style="left:23.80px;top:80.60px;width:52.10px"><span class="tx">멤버 FK</span></div>
<div class="c" style="left:77.30px;top:80.60px;width:63.60px"><span class="tx">member_id</span></div>
<div class="c" style="left:142.30px;top:80.60px;width:50.80px"><span class="tx red">bigint</span></div>
<div class="c" style="left:194.50px;top:80.60px;width:52.40px"><span class="tx">NOT NULL</span></div>
<div class="c" style="left:248.30px;top:80.60px;width:63.30px"><span class="dv">Default value</span></div>
<div class="c" style="left:2.30px;top:95.60px;width:20.10px"><svg class="k" width="13" height="10" viewBox="0 0 13 10"><circle cx="3.9" cy="4.5" r="3.05" fill="none" stroke="#e0a3b3" stroke-width="1.0"/><circle cx="3.9" cy="4.5" r="1.05" fill="#e0a3b3"/><path d="M6.9 3.35H12.2V5.8L11.7 7.8H10.2L9.3 5.7H6.9" fill="none" stroke="#e0a3b3" stroke-width="0.95" stroke-linejoin="round"/></svg></div>
<div class="c" style="left:23.80px;top:95.60px;width:52.10px"><span class="tx">팀 FK</span></div>
<div class="c" style="left:77.30px;top:95.60px;width:63.60px"><span class="tx">team_id</span></div>
<div class="c" style="left:142.30px;top:95.60px;width:50.80px"><span class="tx">bigint</span></div>
<div class="c" style="left:194.50px;top:95.60px;width:52.40px"><span class="tx">NOT NULL</span></div>
<div class="c" style="left:248.30px;top:95.60px;width:63.30px"><span class="dv">Default value</span></div>
</div>
<div class="t" style="left:651.70px;top:814.10px;width:322.00px;height:126.40px">
<div class="ht" style="left:3.6px;top:3.3px">팀 규칙 달성 기록</div>
<div class="hn" style="right:4.2px;top:3.3px">team_rule_history</div>
<div class="c p" style="left:2.40px;top:20.70px;width:19.70px"><svg class="k" width="13" height="10" viewBox="0 0 13 10"><circle cx="3.9" cy="4.5" r="3.05" fill="none" stroke="#e8c300" stroke-width="1.0"/><circle cx="3.9" cy="4.5" r="1.05" fill="#e8c300"/><path d="M6.9 3.35H12.2V5.8L11.7 7.8H10.2L9.3 5.7H6.9" fill="none" stroke="#e8c300" stroke-width="0.95" stroke-linejoin="round"/></svg></div>
<div class="c p" style="left:23.50px;top:20.70px;width:52.70px"><span class="tx">기본 키</span></div>
<div class="c p" style="left:77.60px;top:20.70px;width:72.80px"><span class="tx">id</span></div>
<div class="c p" style="left:151.80px;top:20.70px;width:51.20px"><span class="tx">bigint</span></div>
<div class="c p" style="left:204.40px;top:20.70px;width:52.10px"><span class="tx">NOT NULL</span></div>
<div class="c p" style="left:257.90px;top:20.70px;width:61.50px"><span class="dv">Default value</span></div>
<div class="c" style="left:2.40px;top:35.70px;width:19.70px"></div>
<div class="c" style="left:23.50px;top:35.70px;width:52.70px"><span class="tx">달성 여부</span></div>
<div class="c" style="left:77.60px;top:35.70px;width:72.80px"><span class="tx">is_completed</span></div>
<div class="c" style="left:151.80px;top:35.70px;width:51.20px"><span class="tx">tinyint(1)</span></div>
<div class="c" style="left:204.40px;top:35.70px;width:52.10px"><span class="tx">NOT NULL</span></div>
<div class="c" style="left:257.90px;top:35.70px;width:61.50px"><span class="dv">Default value</span></div>
<div class="c" style="left:2.40px;top:50.70px;width:19.70px"></div>
<div class="c" style="left:23.50px;top:50.70px;width:52.70px"><span class="tx">완료된 사진</span></div>
<div class="c" style="left:77.60px;top:50.70px;width:72.80px"><span class="tx">complete_image</span></div>
<div class="c" style="left:151.80px;top:50.70px;width:51.20px"><span class="tx">blob</span></div>
<div class="c" style="left:204.40px;top:50.70px;width:52.10px"><span class="tx">NULL</span></div>
<div class="c" style="left:257.90px;top:50.70px;width:61.50px"><span class="dv">Default value</span></div>
<div class="c" style="left:2.40px;top:65.70px;width:19.70px"></div>
<div class="c" style="left:23.50px;top:65.70px;width:52.70px"><span class="tx">생성 날짜</span></div>
<div class="c" style="left:77.60px;top:65.70px;width:72.80px"><span class="tx">created_date</span></div>
<div class="c" style="left:151.80px;top:65.70px;width:51.20px"><span class="tx">timestamp</span></div>
<div class="c" style="left:204.40px;top:65.70px;width:52.10px"><span class="tx">NOT NULL</span></div>
<div class="c" style="left:257.90px;top:65.70px;width:61.50px"><span class="dv">Default value</span></div>
<div class="c" style="left:2.40px;top:80.70px;width:19.70px"></div>
<div class="c" style="left:23.50px;top:80.70px;width:52.70px"><span class="tx">변경 날짜</span></div>
<div class="c" style="left:77.60px;top:80.70px;width:72.80px"><span class="tx">modified_date</span></div>
<div class="c" style="left:151.80px;top:80.70px;width:51.20px"><span class="tx">timestamp</span></div>
<div class="c" style="left:204.40px;top:80.70px;width:52.10px"><span class="tx">NOT NULL</span></div>
<div class="c" style="left:257.90px;top:80.70px;width:61.50px"><span class="dv">Default value</span></div>
<div class="c" style="left:2.40px;top:95.70px;width:19.70px"><svg class="k" width="13" height="10" viewBox="0 0 13 10"><circle cx="3.9" cy="4.5" r="3.05" fill="none" stroke="#e0a3b3" stroke-width="1.0"/><circle cx="3.9" cy="4.5" r="1.05" fill="#e0a3b3"/><path d="M6.9 3.35H12.2V5.8L11.7 7.8H10.2L9.3 5.7H6.9" fill="none" stroke="#e0a3b3" stroke-width="0.95" stroke-linejoin="round"/></svg></div>
<div class="c" style="left:23.50px;top:95.70px;width:52.70px"><span class="tx">멤버 FK</span></div>
<div class="c" style="left:77.60px;top:95.70px;width:72.80px"><span class="tx">member_id</span></div>
<div class="c" style="left:151.80px;top:95.70px;width:51.20px"><span class="tx red">bigint</span></div>
<div class="c" style="left:204.40px;top:95.70px;width:52.10px"><span class="tx">NOT NULL</span></div>
<div class="c" style="left:257.90px;top:95.70px;width:61.50px"><span class="dv">Default value</span></div>
<div class="c" style="left:2.40px;top:110.70px;width:19.70px"><svg class="k" width="13" height="10" viewBox="0 0 13 10"><circle cx="3.9" cy="4.5" r="3.05" fill="none" stroke="#e0a3b3" stroke-width="1.0"/><circle cx="3.9" cy="4.5" r="1.05" fill="#e0a3b3"/><path d="M6.9 3.35H12.2V5.8L11.7 7.8H10.2L9.3 5.7H6.9" fill="none" stroke="#e0a3b3" stroke-width="0.95" stroke-linejoin="round"/></svg></div>
<div class="c" style="left:23.50px;top:110.70px;width:52.70px"><span class="tx">팀 FK</span></div>
<div class="c" style="left:77.60px;top:110.70px;width:72.80px"><span class="tx">team_id</span></div>
<div class="c" style="left:151.80px;top:110.70px;width:51.20px"><span class="tx">bigint</span></div>
<div class="c" style="left:204.40px;top:110.70px;width:52.10px"><span class="tx">NOT NULL</span></div>
<div class="c" style="left:257.90px;top:110.70px;width:61.50px"><span class="dv">Default value</span></div>
</div>
<div class="t" style="left:1281.40px;top:776.80px;width:389.40px;height:201.90px">
<div class="ht" style="left:3.6px;top:3.3px">팀 미션</div>
<div class="hn" style="right:4.2px;top:3.3px">team</div>
<div class="c p" style="left:2.50px;top:20.80px;width:20.00px"><svg class="k" width="13" height="10" viewBox="0 0 13 10"><circle cx="3.9" cy="4.5" r="3.05" fill="none" stroke="#e8c300" stroke-width="1.0"/><circle cx="3.9" cy="4.5" r="1.05" fill="#e8c300"/><path d="M6.9 3.35H12.2V5.8L11.7 7.8H10.2L9.3 5.7H6.9" fill="none" stroke="#e8c300" stroke-width="0.95" stroke-linejoin="round"/></svg></div>
<div class="c p" style="left:23.90px;top:20.80px;width:89.00px"><span class="tx">기본 키</span></div>
<div class="c p" style="left:114.30px;top:20.80px;width:99.80px"><span class="tx">id</span></div>
<div class="c p" style="left:215.50px;top:20.80px;width:50.90px"><span class="tx">bigint</span></div>
<div class="c p" style="left:267.80px;top:20.80px;width:52.10px"><span class="tx">NOT NULL</span></div>
<div class="c p" style="left:321.30px;top:20.80px;width:65.40px"><span class="dv">Default value</span></div>
<div class="c" style="left:2.50px;top:35.80px;width:20.00px"></div>
<div class="c" style="left:23.90px;top:35.80px;width:89.00px"><span class="tx">방 제목</span></div>
<div class="c" style="left:114.30px;top:35.80px;width:99.80px"><span class="tx">title</span></div>
<div class="c" style="left:215.50px;top:35.80px;width:50.90px"><span class="tx">varchar</span></div>
<div class="c" style="left:267.80px;top:35.80px;width:52.10px"><span class="tx">NOT NULL</span></div>
<div class="c" style="left:321.30px;top:35.80px;width:65.40px"><span class="dv">Default value</span></div>
<div class="c" style="left:2.50px;top:50.80px;width:20.00px"></div>
<div class="c" style="left:23.90px;top:50.80px;width:89.00px"><span class="tx">벌금</span></div>
<div class="c" style="left:114.30px;top:50.80px;width:99.80px"><span class="tx">fine</span></div>
<div class="c" style="left:215.50px;top:50.80px;width:50.90px"><span class="tx">int</span></div>
<div class="c" style="left:267.80px;top:50.80px;width:52.10px"><span class="tx">NOT NULL</span></div>
<div class="c" style="left:321.30px;top:50.80px;width:65.40px"><span class="dv">Default value</span></div>
<div class="c" style="left:2.50px;top:65.80px;width:20.00px"></div>
<div class="c" style="left:23.90px;top:65.80px;width:89.00px"><span class="tx">규칙</span></div>
<div class="c" style="left:114.30px;top:65.80px;width:99.80px"><span class="tx">rule</span></div>
<div class="c" style="left:215.50px;top:65.80px;width:50.90px"><span class="tx">varchar</span></div>
<div class="c" style="left:267.80px;top:65.80px;width:52.10px"><span class="tx">NOT NULL</span></div>
<div class="c" style="left:321.30px;top:65.80px;width:65.40px"><span class="dv">Default value</span></div>
<div class="c" style="left:2.50px;top:80.80px;width:20.00px"></div>
<div class="c" style="left:23.90px;top:80.80px;width:89.00px"><span class="tx">계좌 정보</span></div>
<div class="c" style="left:114.30px;top:80.80px;width:99.80px"><span class="tx">account_no</span></div>
<div class="c" style="left:215.50px;top:80.80px;width:50.90px"><span class="tx">varchar</span></div>
<div class="c" style="left:267.80px;top:80.80px;width:52.10px"><span class="tx">NOT NULL</span></div>
<div class="c" style="left:321.30px;top:80.80px;width:65.40px"><span class="dv">Default value</span></div>
<div class="c" style="left:2.50px;top:95.80px;width:20.00px"></div>
<div class="c" style="left:23.90px;top:95.80px;width:89.00px"><span class="tx">만료 날짜</span></div>
<div class="c" style="left:114.30px;top:95.80px;width:99.80px"><span class="tx">expired_date</span></div>
<div class="c" style="left:215.50px;top:95.80px;width:50.90px"><span class="tx">timestamp</span></div>
<div class="c" style="left:267.80px;top:95.80px;width:52.10px"><span class="tx">NOT NULL</span></div>
<div class="c" style="left:321.30px;top:95.80px;width:65.40px"><span class="dv">Default value</span></div>
<div class="c" style="left:2.50px;top:110.80px;width:20.00px"></div>
<div class="c" style="left:23.90px;top:110.80px;width:89.00px"><span class="tx">생성 날짜</span></div>
<div class="c" style="left:114.30px;top:110.80px;width:99.80px"><span class="tx">created_date</span></div>
<div class="c" style="left:215.50px;top:110.80px;width:50.90px"><span class="tx">timestamp</span></div>
<div class="c" style="left:267.80px;top:110.80px;width:52.10px"><span class="tx">NOT NULL</span></div>
<div class="c" style="left:321.30px;top:110.80px;width:65.40px"><span class="dv">Default value</span></div>
<div class="c" style="left:2.50px;top:125.80px;width:20.00px"></div>
<div class="c" style="left:23.90px;top:125.80px;width:89.00px"><span class="tx">변경 날짜</span></div>
<div class="c" style="left:114.30px;top:125.80px;width:99.80px"><span class="tx">modified_date</span></div>
<div class="c" style="left:215.50px;top:125.80px;width:50.90px"><span class="tx">timestamp</span></div>
<div class="c" style="left:267.80px;top:125.80px;width:52.10px"><span class="tx">NOT NULL</span></div>
<div class="c" style="left:321.30px;top:125.80px;width:65.40px"><span class="dv">Default value</span></div>
<div class="c" style="left:2.50px;top:140.80px;width:20.00px"></div>
<div class="c" style="left:23.90px;top:140.80px;width:89.00px"><span class="tx">팀 미션 주인</span></div>
<div class="c" style="left:114.30px;top:140.80px;width:99.80px"><span class="tx">member_id</span></div>
<div class="c" style="left:215.50px;top:140.80px;width:50.90px"><span class="tx">bigint</span></div>
<div class="c" style="left:267.80px;top:140.80px;width:52.10px"><span class="tx">NOT NULL</span></div>
<div class="c" style="left:321.30px;top:140.80px;width:65.40px"><span class="dv">Default value</span></div>
<div class="c" style="left:2.50px;top:155.80px;width:20.00px"></div>
<div class="c" style="left:23.90px;top:155.80px;width:89.00px"><span class="tx">베팅 오픈 여부</span></div>
<div class="c" style="left:114.30px;top:155.80px;width:99.80px"><span class="tx">is_betting_open</span></div>
<div class="c" style="left:215.50px;top:155.80px;width:50.90px"><span class="tx">tinyint</span></div>
<div class="c" style="left:267.80px;top:155.80px;width:52.10px"><span class="tx">NOT NULL</span></div>
<div class="c" style="left:321.30px;top:155.80px;width:65.40px"><span class="dv">Default value</span></div>
<div class="c" style="left:2.50px;top:170.80px;width:20.00px"></div>
<div class="c" style="left:23.90px;top:170.80px;width:89.00px"><span class="tx">베팅 대상자 ID</span></div>
<div class="c" style="left:114.30px;top:170.80px;width:99.80px"><span class="tx">target_id</span></div>
<div class="c" style="left:215.50px;top:170.80px;width:50.90px"><span class="tx">bigint</span></div>
<div class="c" style="left:267.80px;top:170.80px;width:52.10px"><span class="tx">NULL</span></div>
<div class="c" style="left:321.30px;top:170.80px;width:65.40px"><span class="dv">Default value</span></div>
<div class="c" style="left:2.50px;top:185.80px;width:20.00px"></div>
<div class="c" style="left:23.90px;top:185.80px;width:89.00px"><span class="tx">이번달 베팅 오픈 여부</span></div>
<div class="c" style="left:114.30px;top:185.80px;width:99.80px"><span class="tx">is_betting_open_month</span></div>
<div class="c" style="left:215.50px;top:185.80px;width:50.90px"><span class="tx">tinyint</span></div>
<div class="c" style="left:267.80px;top:185.80px;width:52.10px"><span class="tx">NOT NULL</span></div>
<div class="c" style="left:321.30px;top:185.80px;width:65.40px"><span class="dv">Default value</span></div>
</div>
<div class="n" style="left:223.40px;top:48.60px;width:252.90px;height:75.70px"><div class="nt">저번 주 전체 성공률 기준으로 베팅 성공 여부 판단<br>&nbsp;<br>저번 주 마일리지 받은 사람은 created_date 기준으로<br>is_win의 개수를 count</div></div>
<div class="n" style="left:1123.30px;top:40.90px;width:165.70px;height:73.10px"><div class="nt">값타입으로 금융상품 정보를 정의</div></div>
<div class="n" style="left:411.10px;top:258.90px;width:197.70px;height:74.90px"><div class="nt">user_key는 이메일 형식으로 unique 지정<br>&nbsp;<br>예금 우대금리는 금융 정보에 저장<br>쌓인 이자금액도 금융 정보에 저장</div></div>
<div class="n" style="left:1311.20px;top:274.00px;width:89.30px;height:74.70px"><div class="nt">일대일 관계는<br>외래키에 unique</div></div>
<div class="n" style="left:1423.70px;top:274.00px;width:75.00px;height:74.70px"><div class="nt">title은<br>unique로 설정</div></div>
<div class="n" style="left:509.10px;top:626.30px;width:101.80px;height:75.10px"><div class="nt">위치 정보 추가 필요</div></div>
<div class="n" style="left:629.20px;top:671.50px;width:140.70px;height:75.00px"><div class="nt">멤버별 규칙 달성 기록<br>- 규칙 완수 이미지 칼럼 필요</div></div>
<div class="n" style="left:1033.90px;top:963.90px;width:144.10px;height:55.10px"><div class="nt">규칙 자체를 개인미션 팀미션<br>나누는 것도 고려</div></div>
<svg class="rel" width="1686" height="1014" viewBox="0 0 1686 1014">
<line x1="808.8" y1="250.6" x2="808.8" y2="266"/>
<line x1="808.8" y1="266" x2="808.8" y2="354" stroke-dasharray="3 1.5"/>
<line x1="808.8" y1="354" x2="808.8" y2="371.3"/>
<line x1="812.6999999999999" y1="256.8" x2="804.9" y2="256.8"/>
<circle cx="808.8" cy="362.5" r="2.9" fill="#292929"/>
<line x1="804.9" y1="368.5" x2="812.6999999999999" y2="368.5"/>
<line x1="974.0" y1="154.0" x2="988" y2="154.0"/>
<line x1="988" y1="154.0" x2="1040" y2="154.0" stroke-dasharray="3 1.5"/>
<line x1="1040" y1="154.0" x2="1056.7" y2="154.0"/>
<line x1="978.9" y1="150.1" x2="978.9" y2="157.9"/>
<line x1="1051.2" y1="154.0" x2="1056.7" y2="157.3"/>
<line x1="1051.2" y1="154.0" x2="1056.7" y2="154.0"/>
<line x1="1051.2" y1="154.0" x2="1056.7" y2="150.7"/>
<line x1="1051.2" y1="157.9" x2="1051.2" y2="150.1"/>
<circle cx="1047.1000000000001" cy="154.0" r="2.9" fill="#292929"/>
<line x1="531.0" y1="491.3" x2="548" y2="491.3"/>
<line x1="548" y1="491.3" x2="618" y2="491.3" stroke-dasharray="3 1.5"/>
<line x1="618" y1="491.3" x2="636.2" y2="491.3"/>
<line x1="536.5" y1="491.3" x2="531.0" y2="488.0"/>
<line x1="536.5" y1="491.3" x2="531.0" y2="491.3"/>
<line x1="536.5" y1="491.3" x2="531.0" y2="494.6"/>
<line x1="536.7" y1="487.40000000000003" x2="536.7" y2="495.2"/>
<circle cx="540.2" cy="491.3" r="2.9" fill="#292929"/>
<line x1="631.0" y1="495.2" x2="631.0" y2="487.40000000000003"/>
<line x1="988.6" y1="491.4" x2="1003" y2="491.4"/>
<line x1="1003" y1="491.4" x2="1272" y2="491.4" stroke-dasharray="3 1.5"/>
<line x1="1272" y1="491.4" x2="1289.1" y2="491.4"/>
<line x1="993.8000000000001" y1="487.5" x2="993.8000000000001" y2="495.29999999999995"/>
<line x1="1283.6" y1="491.4" x2="1289.1" y2="494.7"/>
<line x1="1283.6" y1="491.4" x2="1289.1" y2="491.4"/>
<line x1="1283.6" y1="491.4" x2="1289.1" y2="488.09999999999997"/>
<line x1="1283.6" y1="495.29999999999995" x2="1283.6" y2="487.5"/>
<circle cx="1279.8999999999999" cy="491.4" r="2.9" fill="#292929"/>
<polyline points="988.6,528.9 1003.7,528.9" fill="none"/>
<polyline points="1003.7,528.9 1085.9,610.6" fill="none" stroke-dasharray="3 1.5"/>
<polyline points="1085.9,610.6 1085.9,627.1" fill="none"/>
<line x1="994.0" y1="525.0" x2="994.0" y2="532.8"/>
<line x1="1085.9" y1="621.1" x2="1082.6000000000001" y2="627.1"/>
<line x1="1085.9" y1="621.1" x2="1085.9" y2="627.1"/>
<line x1="1085.9" y1="621.1" x2="1089.2" y2="627.1"/>
<line x1="1082.0" y1="621.1" x2="1089.8000000000002" y2="621.1"/>
<line x1="808.8" y1="618.0" x2="808.8" y2="633"/>
<line x1="808.8" y1="633" x2="808.8" y2="800" stroke-dasharray="3 1.5"/>
<line x1="808.8" y1="800" x2="808.8" y2="814.1"/>
<line x1="812.6999999999999" y1="624.3" x2="804.9" y2="624.3"/>
<line x1="808.8" y1="808.6" x2="805.5" y2="814.1"/>
<line x1="808.8" y1="808.6" x2="808.8" y2="814.1"/>
<line x1="808.8" y1="808.6" x2="812.0999999999999" y2="814.1"/>
<line x1="804.9" y1="808.6" x2="812.6999999999999" y2="808.6"/>
<circle cx="808.8" cy="804.9" r="2.9" fill="#292929"/>
<line x1="1476.1" y1="498.1" x2="1476.1" y2="516"/>
<line x1="1476.1" y1="516" x2="1476.1" y2="761" stroke-dasharray="3 1.5"/>
<line x1="1476.1" y1="761" x2="1476.1" y2="776.8"/>
<line x1="1476.1" y1="504.40000000000003" x2="1479.3999999999999" y2="498.1"/>
<line x1="1476.1" y1="504.40000000000003" x2="1476.1" y2="498.1"/>
<line x1="1476.1" y1="504.40000000000003" x2="1472.8" y2="498.1"/>
<line x1="1480.0" y1="504.40000000000003" x2="1472.1999999999998" y2="504.40000000000003"/>
<circle cx="1476.1" cy="507.90000000000003" r="2.9" fill="#292929"/>
<line x1="1472.1999999999998" y1="771.3" x2="1480.0" y2="771.3"/>
<polyline points="1228.6,738.3 1228.6,753.5" fill="none"/>
<polyline points="1228.6,753.5 1266.4,791.4" fill="none" stroke-dasharray="3 1.5"/>
<polyline points="1266.4,791.4 1281.4,791.4" fill="none"/>
<line x1="1228.6" y1="744.5999999999999" x2="1231.8999999999999" y2="738.3"/>
<line x1="1228.6" y1="744.5999999999999" x2="1228.6" y2="738.3"/>
<line x1="1228.6" y1="744.5999999999999" x2="1225.3" y2="738.3"/>
<line x1="1232.5" y1="744.5999999999999" x2="1224.6999999999998" y2="744.5999999999999"/>
<circle cx="1228.6" cy="748.0999999999999" r="2.9" fill="#292929"/>
<line x1="1276.1000000000001" y1="795.3" x2="1276.1000000000001" y2="787.5"/>
<line x1="973.7" y1="874.0" x2="990" y2="874.0"/>
<line x1="990" y1="874.0" x2="1262" y2="874.0" stroke-dasharray="3 1.5"/>
<line x1="1262" y1="874.0" x2="1281.4" y2="874.0"/>
<line x1="979.2" y1="874.0" x2="973.7" y2="870.7"/>
<line x1="979.2" y1="874.0" x2="973.7" y2="874.0"/>
<line x1="979.2" y1="874.0" x2="973.7" y2="877.3"/>
<line x1="979.2" y1="870.1" x2="979.2" y2="877.9"/>
<circle cx="982.9000000000001" cy="874.0" r="2.9" fill="#292929"/>
<line x1="1276.1000000000001" y1="877.9" x2="1276.1000000000001" y2="870.1"/>
</svg>
</body></html>
